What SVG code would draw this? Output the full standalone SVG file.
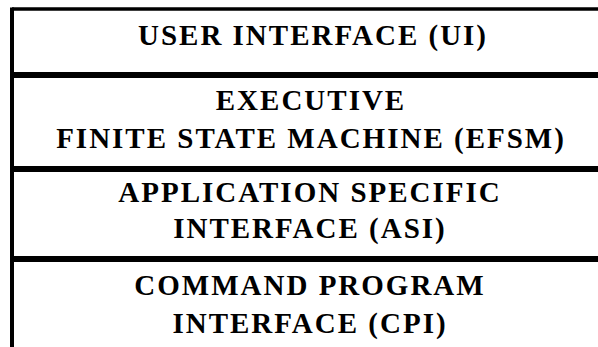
<svg xmlns="http://www.w3.org/2000/svg" width="598" height="347" viewBox="0 0 598 347">
<style>
.t{font-family:"Liberation Serif","Times New Roman",serif;font-weight:bold;font-size:29px;letter-spacing:2px;text-anchor:middle;fill:#000}
.ln{stroke:#000;fill:none}
</style>
<rect width="598" height="347" fill="#fff"/>
<g id="frame">
<line class="ln" x1="12" y1="9" x2="598" y2="9" stroke-width="3.5"/>
<line class="ln" x1="12" y1="7.5" x2="12" y2="347" stroke-width="4"/>
</g>
<g id="connectors">
<line class="ln" x1="10" y1="75" x2="598" y2="75" stroke-width="6"/>
<line class="ln" x1="10" y1="169" x2="598" y2="169" stroke-width="6"/>
<line class="ln" x1="10" y1="259" x2="598" y2="259" stroke-width="6"/>
</g>
<g id="ui">
<text class="t" x="313" y="45">USER INTERFACE (UI)</text>
</g>
<g id="efsm">
<text class="t" x="311" y="110">EXECUTIVE</text>
<text class="t" x="311" y="148">FINITE STATE MACHINE (EFSM)</text>
</g>
<g id="asi">
<text class="t" x="310" y="202">APPLICATION SPECIFIC</text>
<text class="t" x="310" y="238">INTERFACE (ASI)</text>
</g>
<g id="cpi">
<text class="t" x="310" y="295">COMMAND PROGRAM</text>
<text class="t" x="310" y="333">INTERFACE (CPI)</text>
</g>
</svg>
